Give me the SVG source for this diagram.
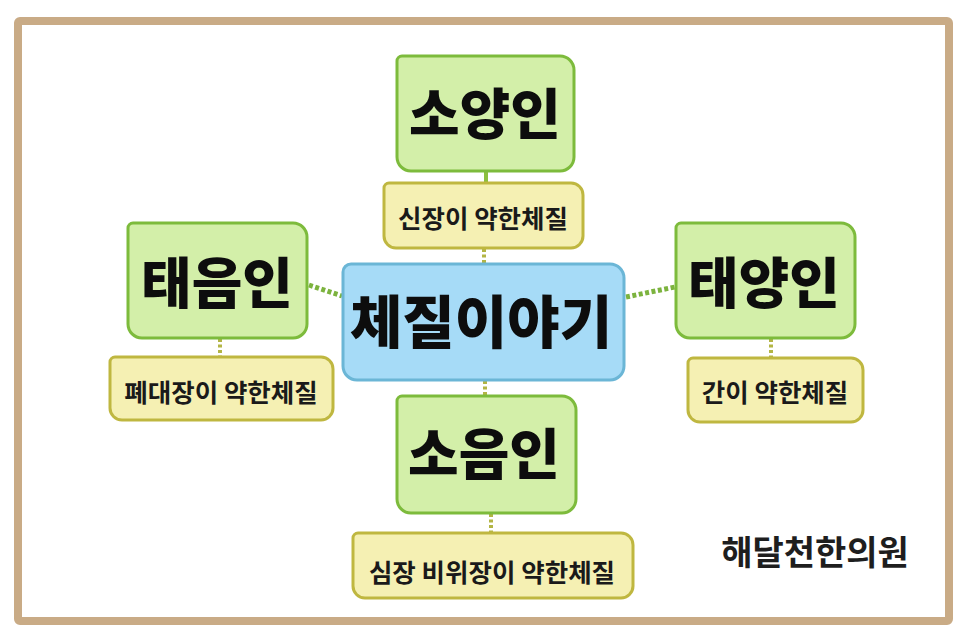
<svg xmlns="http://www.w3.org/2000/svg" width="966" height="644" viewBox="0 0 966 644">
<style>
.frame{fill:#ffffff;stroke:#c9ab86;stroke-width:8}
.green{fill:#d3efa9;stroke:#7dbb3c;stroke-width:3}
.blue{fill:#a6dbf7;stroke:#6bb6d6;stroke-width:3}
.yellow{fill:#f5f0b3;stroke:#bfb740;stroke-width:3}
.big{font-family:"Noto Sans CJK KR","Noto Sans",sans-serif;font-weight:900;font-size:55px;fill:#0d0d0d;text-anchor:middle;dominant-baseline:central}
.small{font-family:"Noto Sans CJK KR","Noto Sans",sans-serif;font-weight:700;font-size:25.5px;fill:#1a1a1a;text-anchor:middle;dominant-baseline:central}
.dotg{fill:none;stroke:#7cb33e;stroke-width:5;stroke-dasharray:4 2.5}
.doty{fill:none;stroke:#b3b545;stroke-width:4;stroke-dasharray:3 2.5}
.solidg{fill:none;stroke:#8cbf3f;stroke-width:4}
</style>
<rect width="966" height="644" fill="#ffffff"/>
<rect class="frame" x="18" y="21" width="931" height="600" rx="2"/>
<g id="connectors">
<line class="solidg" x1="486" y1="171" x2="486" y2="183"/>
<line class="doty" x1="484" y1="249" x2="484" y2="263"/>
<line class="doty" x1="485" y1="381" x2="485" y2="396"/>
<line class="doty" x1="491" y1="514" x2="491" y2="533"/>
<line class="doty" x1="220" y1="339" x2="220" y2="357"/>
<line class="doty" x1="771" y1="339" x2="771" y2="358"/>
<line class="dotg" x1="309" y1="285" x2="342" y2="296"/>
<line class="dotg" x1="626" y1="297" x2="675" y2="287"/>
</g>
<g id="soyangin">
<path class="green" d="M402,56 H560 A14,14 0 0 1 574,70 V157 A14,14 0 0 1 560,171 H411 A14,14 0 0 1 397,157 V61 A5,5 0 0 1 402,56 Z"/>
<text class="big" x="485" y="110">소양인</text>
</g>
<g id="soyangin-note">
<path class="yellow" d="M389,183 H571 A12,12 0 0 1 583,195 V236 A12,12 0 0 1 571,248 H396 A12,12 0 0 1 384,236 V188 A5,5 0 0 1 389,183 Z"/>
<text class="small" x="483" y="216">신장이 약한체질</text>
</g>
<g id="center">
<path class="blue" d="M351,264 H610 A14,14 0 0 1 624,278 V366 A14,14 0 0 1 610,380 H357 A14,14 0 0 1 343,366 V272 A8,8 0 0 1 351,264 Z"/>
<text class="big" x="481" y="318" style="font-size:57px">체질이야기</text>
</g>
<g id="taeeumin">
<path class="green" d="M133,223 H293 A14,14 0 0 1 307,237 V324 A14,14 0 0 1 293,338 H142 A14,14 0 0 1 128,324 V228 A5,5 0 0 1 133,223 Z"/>
<text class="big" x="217" y="279">태음인</text>
</g>
<g id="taeeumin-note">
<path class="yellow" d="M115,357 H321 A12,12 0 0 1 333,369 V408 A12,12 0 0 1 321,420 H122 A12,12 0 0 1 110,408 V362 A5,5 0 0 1 115,357 Z"/>
<text class="small" x="221" y="390">폐대장이 약한체질</text>
</g>
<g id="taeyangin">
<path class="green" d="M681,223 H841 A14,14 0 0 1 855,237 V324 A14,14 0 0 1 841,338 H690 A14,14 0 0 1 676,324 V228 A5,5 0 0 1 681,223 Z"/>
<text class="big" x="764" y="279">태양인</text>
</g>
<g id="taeyangin-note">
<path class="yellow" d="M693,358 H851 A12,12 0 0 1 863,370 V410 A12,12 0 0 1 851,422 H700 A12,12 0 0 1 688,410 V363 A5,5 0 0 1 693,358 Z"/>
<text class="small" x="775" y="390">간이 약한체질</text>
</g>
<g id="soeumin">
<path class="green" d="M402,396 H562 A14,14 0 0 1 576,410 V499 A14,14 0 0 1 562,513 H411 A14,14 0 0 1 397,499 V401 A5,5 0 0 1 402,396 Z"/>
<text class="big" x="484" y="450">소음인</text>
</g>
<g id="soeumin-note">
<path class="yellow" d="M358,533 H621 A12,12 0 0 1 633,545 V586 A12,12 0 0 1 621,598 H365 A12,12 0 0 1 353,586 V538 A5,5 0 0 1 358,533 Z"/>
<text class="small" x="492" y="570">심장 비위장이 약한체질</text>
</g>
<g id="signature">
<text x="815" y="550" style="font-family:'Noto Sans CJK KR','Noto Sans',sans-serif;font-weight:700;font-size:34px;fill:#1e1e1e;text-anchor:middle;dominant-baseline:central">해달천한의원</text>
</g>
</svg>
